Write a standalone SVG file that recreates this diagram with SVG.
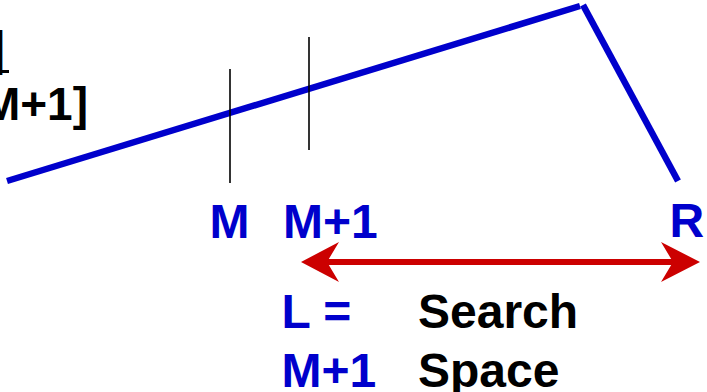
<svg xmlns="http://www.w3.org/2000/svg" width="707" height="392" viewBox="0 0 707 392">
<style>
.t{font-family:"Liberation Sans",Arial,sans-serif;font-weight:bold;font-size:48px}
.b{fill:#0000cc}
.k{fill:#000}
.curve{stroke:#0000cc;stroke-width:6.5;fill:none}
.tick{stroke:#000;stroke-width:1.6}
.red{stroke:#cc0000;stroke-width:6;fill:none}
.head{fill:#cc0000}
</style>
<rect width="707" height="392" fill="#fff"/>
<g id="condition">
<text class="t k" x="5" y="65" text-anchor="end" font-size="46">A[M]</text>
<line x1="0" y1="71.5" x2="9" y2="71.5" stroke="#000" stroke-width="3"/>
<text class="t k" x="88" y="120" text-anchor="end" style="font-size:46px">A[M+1]</text>
</g>
<g id="curve">
<line class="curve" x1="7" y1="181" x2="580" y2="6"/>
<line class="curve" x1="583" y1="5" x2="678" y2="181"/>
</g>
<g id="ticks">
<line class="tick" x1="230" y1="69" x2="230" y2="183"/>
<line class="tick" x1="309" y1="37" x2="309" y2="150"/>
</g>
<g id="labels">
<text class="t b" x="209.5" y="238">M</text>
<text class="t b" x="283" y="238">M+1</text>
<text class="t b" x="669.5" y="237">R</text>
</g>
<g id="connectors">
<line class="red" x1="325" y1="262" x2="675" y2="262"/>
<path class="head" d="M301,262 L339,242 L327,262 L339,282 Z"/>
<path class="head" d="M700,262 L661,242 L673,262 L661,282 Z"/>
</g>
<g id="searchspace">
<text class="t b" x="281.5" y="328">L =</text>
<text class="t b" x="281.5" y="387">M+1</text>
<text class="t k" x="418" y="328">Search</text>
<text class="t k" x="418" y="387">Space</text>
</g>
</svg>
